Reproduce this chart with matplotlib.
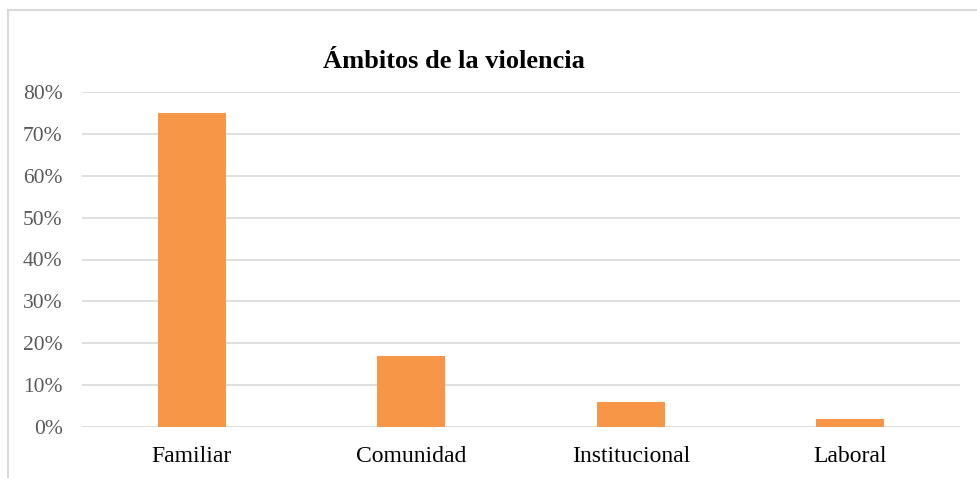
import matplotlib
matplotlib.use("Agg")
import matplotlib.pyplot as plt
from matplotlib.ticker import PercentFormatter
from matplotlib.lines import Line2D

# --- data ---
categories = ["Familiar", "Comunidad", "Institucional", "Laboral"]
values = [0.75, 0.17, 0.06, 0.02]
yticks = [0.0, 0.1, 0.2, 0.3, 0.4, 0.5, 0.6, 0.7, 0.8]

BAR = "#F79646"
GRID = "#D9D9D9"
TICK = "#595959"
FRAME = "#D9D9D9"

W, H = 977, 478
plt.rcParams["font.family"] = ["Liberation Serif", "DejaVu Serif"]

fig = plt.figure(figsize=(W / 100, H / 100), dpi=100)
fig.patch.set_facecolor("white")

# plot area in pixel coords: x 82..960, y 92..427 (top-down)
left, right, top, bottom = 82, 960, 92, 427
ax = fig.add_axes([left / W, 1 - bottom / H, (right - left) / W, (bottom - top) / H])

x = range(len(categories))
ax.bar(x, values, width=0.31, color=BAR, zorder=3)
ax.set_xlim(-0.5, len(categories) - 0.5)
ax.set_ylim(0, 0.8)
ax.set_yticks(yticks)
ax.yaxis.set_major_formatter(PercentFormatter(1.0, decimals=0))
ax.set_xticks(list(x))
ax.set_xticklabels(categories)

ax.grid(axis="y", color=GRID, lw=1.2, zorder=0)
for s in ax.spines.values():
    s.set_visible(False)
ax.tick_params(axis="both", length=0)
ax.tick_params(axis="y", labelsize=15.5, labelcolor=TICK, pad=14)
ax.tick_params(axis="x", labelsize=17, labelcolor="black", pad=14)

fig.text(454 / W, 1 - 61 / H, "Ámbitos de la violencia", fontsize=19,
         fontweight="bold", ha="center", va="center")

# chart frame (cut off on the right and bottom)
fig.add_artist(Line2D([8 / W, 8 / W], [0, 1 - 10 / H], color=FRAME, lw=1.5,
                      transform=fig.transFigure))
fig.add_artist(Line2D([8 / W, 1], [1 - 10 / H, 1 - 10 / H], color=FRAME, lw=1.5,
                      transform=fig.transFigure))

fig.savefig("out.png", dpi=100, facecolor="white")
